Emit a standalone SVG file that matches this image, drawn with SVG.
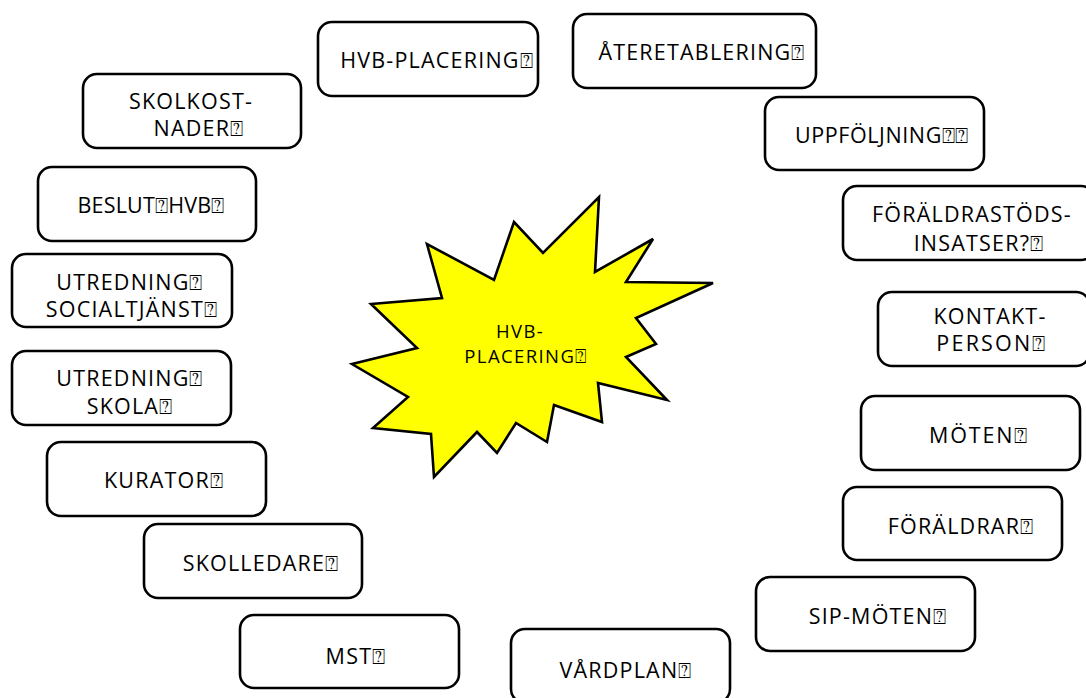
<svg xmlns="http://www.w3.org/2000/svg" width="1086" height="698" viewBox="0 0 1086 698">
<style>
.box{fill:#fff;stroke:#000;stroke-width:2.6}
.t{font-family:"Open Sans","DejaVu Sans",sans-serif;font-size:21.5px;letter-spacing:1.2px;fill:#000;text-anchor:middle}
.st{font-family:"Open Sans","DejaVu Sans",sans-serif;font-size:18.5px;letter-spacing:1.4px;fill:#000;text-anchor:middle}
</style>
<rect width="1086" height="698" fill="#fff"/>
<g id="connectors"></g>
<g id="center">
<polygon points="599,197 595,272 653,239 626,282 713,283 636,318 656,344 626,357 667,400 598,383 602,422 554,405 547,442 516,423 497,453 477,432 434,477 431,434 373,428 408,397 352,364 417,348 371,304 442,298 427,244 494,280 514,222 543,253" fill="#ffff00" stroke="#000" stroke-width="2.6" stroke-linejoin="miter"/>
<text class="st" x="520" y="338">HVB-</text>
<text class="st" x="526" y="363">PLACERING⍰</text>
</g>
<g id="n-hvb"><rect class="box" x="318" y="22" width="220" height="74" rx="14"/><text class="t" x="437" y="68">HVB-PLACERING⍰</text></g>
<g id="n-atere"><rect class="box" x="573" y="14" width="243" height="74" rx="14"/><text class="t" x="702" y="60">ÅTERETABLERING⍰</text></g>
<g id="n-skolkost"><rect class="box" x="83" y="74" width="218" height="74" rx="14"/><text class="t" x="191" y="109">SKOLKOST-</text><text class="t" x="199" y="136">NADER⍰</text></g>
<g id="n-uppf"><rect class="box" x="765" y="97" width="219" height="73" rx="14"/><text class="t" x="882" y="143" style="letter-spacing:0.6px">UPPFÖLJNING⍰⍰</text></g>
<g id="n-beslut"><rect class="box" x="38" y="167" width="218" height="74" rx="14"/><text class="t" x="151" y="213" style="letter-spacing:0.2px">BESLUT⍰HVB⍰</text></g>
<g id="n-foraldrastod"><rect class="box" x="843" y="186" width="252" height="74" rx="14"/><text class="t" x="972" y="222">FÖRÄLDRASTÖDS-</text><text class="t" x="979" y="251">INSATSER?⍰</text></g>
<g id="n-utr-soc"><rect class="box" x="12" y="254" width="220" height="73" rx="14"/><text class="t" x="130" y="290">UTREDNING⍰</text><text class="t" x="132" y="317">SOCIALTJÄNST⍰</text></g>
<g id="n-kontakt"><rect class="box" x="878" y="292" width="212" height="74" rx="14"/><text class="t" x="990" y="324">KONTAKT-</text><text class="t" x="992" y="351" style="letter-spacing:2.2px">PERSON⍰</text></g>
<g id="n-utr-skola"><rect class="box" x="12" y="351" width="219" height="74" rx="14"/><text class="t" x="130" y="386">UTREDNING⍰</text><text class="t" x="130" y="414">SKOLA⍰</text></g>
<g id="n-moten"><rect class="box" x="861" y="396" width="219" height="74" rx="14"/><text class="t" x="979" y="443" style="letter-spacing:1.8px">MÖTEN⍰</text></g>
<g id="n-kurator"><rect class="box" x="47" y="442" width="219" height="74" rx="14"/><text class="t" x="164" y="488">KURATOR⍰</text></g>
<g id="n-foraldrar"><rect class="box" x="843" y="487" width="219" height="73" rx="14"/><text class="t" x="961" y="534">FÖRÄLDRAR⍰</text></g>
<g id="n-skolledare"><rect class="box" x="144" y="524" width="218" height="74" rx="14"/><text class="t" x="261" y="571">SKOLLEDARE⍰</text></g>
<g id="n-sip"><rect class="box" x="756" y="577" width="219" height="74" rx="14"/><text class="t" x="878" y="624">SIP-MÖTEN⍰</text></g>
<g id="n-mst"><rect class="box" x="240" y="615" width="219" height="73" rx="14"/><text class="t" x="356" y="664">MST⍰</text></g>
<g id="n-vardplan"><rect class="box" x="511" y="629" width="219" height="74" rx="14"/><text class="t" x="626" y="678">VÅRDPLAN⍰</text></g>
</svg>
